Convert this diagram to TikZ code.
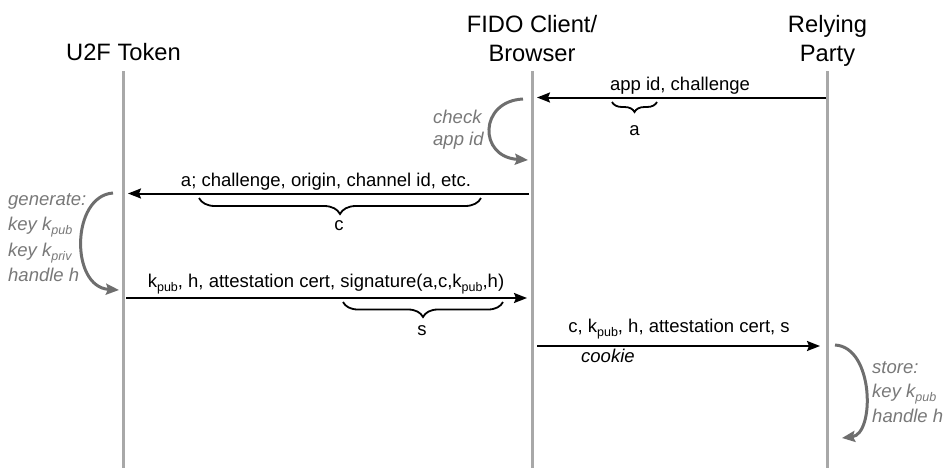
\documentclass[tikz,border=0pt]{standalone}
\usepackage{fontspec}
\setmainfont{Liberation Sans}
\usetikzlibrary{arrows.meta,decorations.pathreplacing}
\definecolor{lifegray}{HTML}{A8A8A8}
\definecolor{arcgray}{HTML}{6E6E6E}
\definecolor{txtgray}{HTML}{787878}
\newcommand\mysub[1]{\raisebox{-0.45ex}{\fontsize{12.5}{13}\selectfont #1}}
\tikzset{
  title/.style={font=\fontsize{23.7}{28}\selectfont, anchor=base, inner sep=0pt},
  msg/.style={font=\fontsize{18.5}{22}\selectfont, anchor=base, inner sep=0pt},
  note/.style={font=\fontsize{18.5}{22}\selectfont\itshape, text=txtgray, anchor=base west, inner sep=0pt},
  lifeline/.style={draw=lifegray, line width=3pt},
  msgarrow/.style={draw=black, line width=2pt, -{Stealth[length=13pt,width=10pt,inset=2pt]}},
  selfarc/.style={draw=arcgray, line width=3pt, -{Stealth[length=13pt,width=11pt,inset=2pt]}},
  bracedown/.style={draw=black, line width=1.8pt, decorate, decoration={brace, mirror, amplitude=#1}},
}
\begin{document}
\begin{tikzpicture}[x=1pt,y=-1pt]
\useasboundingbox (0,0) rectangle (952,472);
% titles
\node[title] (u2f) at (123.5,60) {U2F Token};
\node[title] (fidoA) at (532,32) {FIDO Client/};
\node[title] (fidoB) at (532,61) {Browser};
\node[title] (rpA) at (827.5,32) {Relying};
\node[title] (rpB) at (827.5,61) {Party};
% lifelines
\coordinate (u2ftop) at (123.5,71);
\coordinate (u2fbot) at (123.5,468);
\coordinate (fctop) at (532,71);
\coordinate (fcbot) at (532,468);
\coordinate (rptop) at (827.5,71);
\coordinate (rpbot) at (827.5,468);
\draw[lifeline] (u2ftop) -- (u2fbot);
\draw[lifeline] (fctop) -- (fcbot);
\draw[lifeline] (rptop) -- (rpbot);
% message 1
\coordinate (m1s) at (826,97.5);
\coordinate (m1e) at (537,97.5);
\draw[msgarrow] (m1s) -- (m1e);
\node[msg] (l1) at (680,90) {app id, challenge};
\coordinate (ba1) at (612,102);
\coordinate (ba2) at (657,102);
\draw[bracedown=10pt] (ba1) -- (ba2);
\node[msg] (la) at (634.5,135) {a};
% check app id
\coordinate (ck1) at (523,99);
\coordinate (ck2) at (528,160);
\draw[selfarc] (ck1) .. controls (479,101) and (478,157) .. (ck2);
\node[note] (ckA) at (433,123) {check};
\node[note] (ckB) at (433,145) {app id};
% message 2
\coordinate (m2s) at (529,193.5);
\coordinate (m2e) at (128,193.5);
\draw[msgarrow] (m2s) -- (m2e);
\node[msg] (l2) at (326,186) {a; challenge, origin, channel id, etc.};
\coordinate (bc1) at (199,198);
\coordinate (bc2) at (481,198);
\draw[bracedown=16pt] (bc1) -- (bc2);
\node[msg] (lc) at (339,230) {c};
% generate
\coordinate (g1) at (113,193);
\coordinate (g2) at (119,290);
\draw[selfarc] (g1) .. controls (71,196) and (70,287) .. (g2);
\node[note] (gA) at (8,205) {generate:};
\node[note] (gB) at (8,230) {key k\mysub{pub}};
\node[note] (gC) at (8,256) {key k\mysub{priv}};
\node[note] (gD) at (8,281.5) {handle h};
% message 3
\coordinate (m3s) at (126,298);
\coordinate (m3e) at (527,298);
\draw[msgarrow] (m3s) -- (m3e);
\node[msg] (l3) at (326,287) {k\mysub{pub}, h, attestation cert, signature(a,c,k\mysub{pub},h)};
\coordinate (bs1) at (343,302);
\coordinate (bs2) at (503,302);
\draw[bracedown=15pt] (bs1) -- (bs2);
\node[msg] (ls) at (422,335) {s};
% message 4
\coordinate (m4s) at (537,346);
\coordinate (m4e) at (820,346);
\draw[msgarrow] (m4s) -- (m4e);
\node[msg] (l4) at (679,332) {c, k\mysub{pub}, h, attestation cert, s};
\node[msg, anchor=base west, font=\fontsize{18.5}{22}\selectfont\itshape] (cookie) at (581,362) {cookie};
% store
\coordinate (s1) at (835,345);
\coordinate (s2) at (842,438);
\draw[selfarc] (s1) .. controls (874,347) and (875,434) .. (s2);
\node[note] (sA) at (872,373) {store:};
\node[note] (sB) at (872,397) {key k\mysub{pub}};
\node[note] (sC) at (872,422) {handle h};
\end{tikzpicture}
\end{document}
